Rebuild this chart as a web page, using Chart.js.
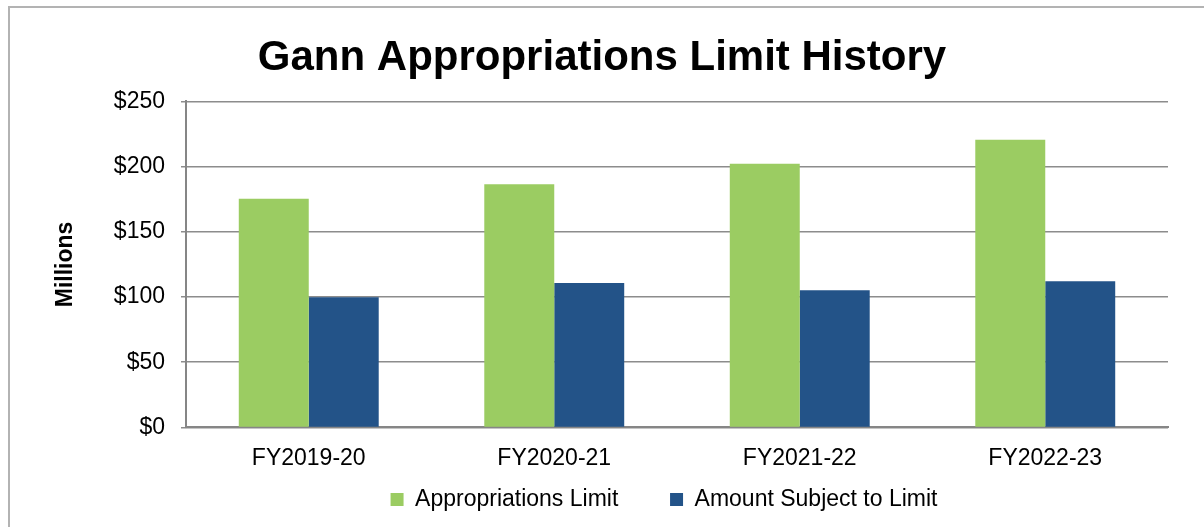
<!DOCTYPE html>
<html lang="en">
<head>
    <meta charset="UTF-8">
    <title>Gann Appropriations Limit History</title>
    <script src="https://cdn.jsdelivr.net/npm/chart.js"></script>
    <style>
        body { margin: 0; background: #ffffff; }
        #wrap { width: 1204px; height: 527px; }
    </style>
</head>
<body>
    <div id="wrap"><canvas id="gann-chart" width="1204" height="527"></canvas></div>

    <script>
        // Chart data (millions)
        var categories = ['FY2019-20', 'FY2020-21', 'FY2021-22', 'FY2022-23'];
        var appropriationsLimit = [175.3, 186.5, 202.1, 220.5];
        var amountSubjectToLimit = [99.9, 110.7, 105.1, 112.1];
        var yTicks = [0, 50, 100, 150, 200, 250];

        var fontFamily = "'Liberation Sans', Arial, sans-serif";

        // grey outer frame (top and left edges only)
        var outerFrame = {
            id: 'outerFrame',
            beforeDraw: function (chart) {
                var c = chart.ctx;
                c.save();
                c.strokeStyle = '#b3b3b3';
                c.lineWidth = 2;
                c.beginPath();
                c.moveTo(9, 528);
                c.lineTo(9, 7);
                c.lineTo(1204, 7);
                c.stroke();
                c.restore();
            }
        };

        // the legend sits a bit right of centre in the original
        var legendShift = {
            id: 'legendShift',
            afterLayout: function (chart) {
                chart.legend.left += 62;
                chart.legend.right += 62;
            }
        };

        var ctx = document.getElementById('gann-chart').getContext('2d');
        var gannChart = new Chart(ctx, {
            type: 'bar',
            data: {
                labels: categories,
                datasets: [{
                    label: 'Appropriations Limit',
                    data: appropriationsLimit,
                    backgroundColor: '#9bcc62',
                    categoryPercentage: 0.57,
                    barPercentage: 1.0
                }, {
                    label: 'Amount Subject to Limit',
                    data: amountSubjectToLimit,
                    backgroundColor: '#235388',
                    categoryPercentage: 0.57,
                    barPercentage: 1.0
                }]
            },
            options: {
                responsive: false,
                animation: false,
                layout: { padding: { left: 36, right: 36, top: 10, bottom: 6 } },
                plugins: {
                    title: {
                        display: true,
                        text: 'Gann Appropriations Limit History',
                        color: '#000000',
                        font: { family: fontFamily, size: 42, weight: 'bold' },
                        padding: { top: 23, bottom: 18 }
                    },
                    legend: {
                        position: 'bottom',
                        labels: {
                            color: '#000000',
                            font: { family: fontFamily, size: 23 },
                            boxWidth: 13,
                            boxHeight: 13,
                            padding: 7,
                            generateLabels: function (chart) {
                                var items = Chart.defaults.plugins.legend.labels.generateLabels(chart);
                                // wider gap between the two entries
                                items[0].text = items[0].text + '\u00a0\u00a0\u00a0\u00a0\u00a0\u00a0\u00a0';
                                return items;
                            }
                        }
                    },
                    tooltip: { enabled: false }
                },
                scales: {
                    x: {
                        grid: { display: false },
                        border: { color: '#868686', width: 2 },
                        ticks: {
                            color: '#000000',
                            font: { family: fontFamily, size: 23 },
                            padding: 9,
                            maxRotation: 0
                        }
                    },
                    y: {
                        min: 0,
                        max: 250,
                        afterBuildTicks: function (scale) {
                            scale.ticks = yTicks.map(function (v) { return { value: v }; });
                        },
                        afterFit: function (scale) {
                            scale.width = 150;
                        },
                        title: {
                            display: true,
                            text: 'Millions',
                            color: '#000000',
                            font: { family: fontFamily, size: 23, weight: 'bold' },
                            padding: { top: 16, bottom: 0 }
                        },
                        grid: {
                            color: '#8c8c8c',
                            lineWidth: 1.5,
                            drawTicks: true,
                            tickLength: 5
                        },
                        border: { color: '#868686', width: 2 },
                        ticks: {
                            color: '#000000',
                            font: { family: fontFamily, size: 23 },
                            padding: 16,
                            callback: function (v) { return '$' + v; }
                        }
                    }
                }
            },
            plugins: [outerFrame, legendShift]
        });
    </script>
</body>
</html>
